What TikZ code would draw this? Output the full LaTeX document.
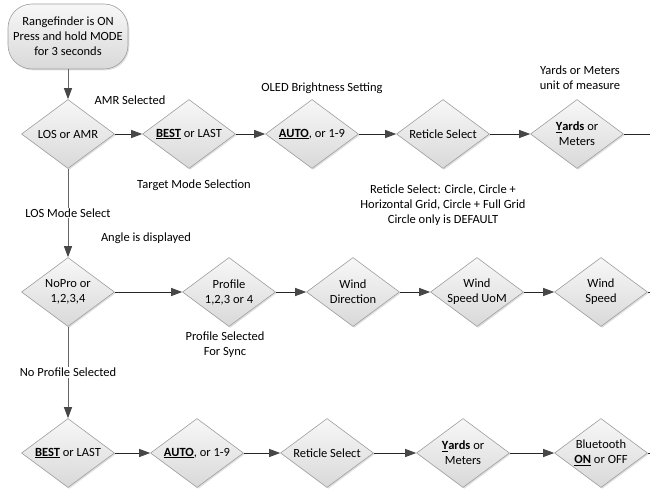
\documentclass[tikz,border=0pt]{standalone}
\usepackage{fontspec}
\setmainfont{Carlito}
\usetikzlibrary{shapes.geometric,arrows.meta,shadows}
\begin{document}
\begin{tikzpicture}[x=1pt,y=-1pt,
  font=\fontsize{12.5}{15}\selectfont,
  boxfill/.style={draw=black!38, line width=0.6pt, top color=black!3, bottom color=black!15,
    drop shadow={opacity=0.25, shadow xshift=1.3pt, shadow yshift=-1.3pt}},
  dia/.style={boxfill, diamond, minimum width=93pt, minimum height=69pt, inner sep=0pt},
  startbox/.style={boxfill, rectangle, rounded corners=24pt, minimum width=120pt, minimum height=65pt, inner sep=0pt, align=center},
  lbl/.style={align=center, inner sep=1pt},
  flow/.style={draw=black!85, line width=0.9pt, -{Triangle[length=11pt,width=8pt,color=black!72]}},
  plain/.style={draw=black!85, line width=0.9pt},
  vflow/.style={flow, draw=black!60}
]
\useasboundingbox (0,0) rectangle (650,489);

% start
\node[startbox] (s) at (68,36.5) {Rangefinder is ON\\Press and hold MODE\\for 3 seconds};

% row 1
\node[dia] (d1) at (68,134) {};  \node[lbl] (t1) at (d1) {LOS or AMR};
\node[dia] (d2) at (189,134) {}; \node[lbl] (t2) at (d2) {\underline{\textbf{BEST}} or LAST};
\node[dia] (d3) at (312,134) {}; \node[lbl] (t3) at (d3) {\underline{\textbf{AUTO}}, or 1-9};
\node[dia] (d4) at (443,134) {}; \node[lbl] (t4) at (d4) {Reticle Select};
\node[dia] (d5) at (577,134) {}; \node[lbl] (t5) at (d5) {\textbf{\underline{Y}ards} or\\Meters};
\coordinate (e1) at (650,134);

% row 2
\node[dia] (d6) at (68,292) {};  \node[lbl] (t6) at (d6) {NoPro or\\1,2,3,4};
\node[dia] (d7) at (229,292) {}; \node[lbl] (t7) at (d7) {Profile\\1,2,3 or 4};
\node[dia] (d8) at (353,292) {}; \node[lbl] (t8) at (d8) {Wind\\Direction};
\node[dia] (d9) at (477,292) {}; \node[lbl] (t9) at (d9) {Wind\\Speed UoM};
\node[dia] (d10) at (601,292) {}; \node[lbl] (t10) at (d10) {Wind\\Speed};
\coordinate (e2) at (650,292);

% row 3
\node[dia] (d11) at (68,453) {};  \node[lbl] (t11) at (d11) {\underline{\textbf{BEST}} or LAST};
\node[dia] (d12) at (197,453) {}; \node[lbl] (t12) at (d12) {\underline{\textbf{AUTO}}, or 1-9};
\node[dia] (d13) at (327,453) {}; \node[lbl] (t13) at (d13) {Reticle Select};
\node[dia] (d14) at (463,453) {}; \node[lbl] (t14) at (d14) {\textbf{\underline{Y}ards} or\\Meters};
\node[dia] (d15) at (601,453) {}; \node[lbl] (t15) at (d15) {Bluetooth\\\underline{\textbf{ON}} or OFF};
\coordinate (e3) at (650,453);

% annotations
\node[lbl] (a1) at (130,100) {AMR Selected};
\node[lbl] (a2) at (194,185) {Target Mode Selection};
\node[lbl] (a3) at (322,88) {OLED Brightness Setting};
\node[lbl] (a4) at (443,205) {Reticle Select: Circle, Circle +\\Horizontal Grid, Circle + Full Grid\\Circle only is DEFAULT};
\node[lbl] (a5) at (580,78) {Yards or Meters\\unit of measure};
\node[lbl] (a6) at (146,238) {Angle is displayed};
\node[lbl] (a7) at (225,345) {Profile Selected\\For Sync};

% connectors
\draw[vflow] (s) -- (d1);
\draw[vflow] (d1) -- node[lbl, fill=white] (m1) {LOS Mode Select} (d6);
\draw[vflow] (d6) -- node[lbl, fill=white] (m2) {No Profile Selected} (d11);

\draw[flow] (d1) -- (d2);
\draw[flow] (d2) -- (d3);
\draw[flow] (d3) -- (d4);
\draw[flow] (d4) -- (d5);
\draw[plain] (d5) -- (e1);

\draw[flow] (d6) -- (d7);
\draw[flow] (d7) -- (d8);
\draw[flow] (d8) -- (d9);
\draw[flow] (d9) -- (d10);
\draw[plain] (d10) -- (e2);

\draw[flow] (d11) -- (d12);
\draw[flow] (d12) -- (d13);
\draw[flow] (d13) -- (d14);
\draw[flow] (d14) -- (d15);
\draw[plain] (d15) -- (e3);
\end{tikzpicture}
\end{document}
